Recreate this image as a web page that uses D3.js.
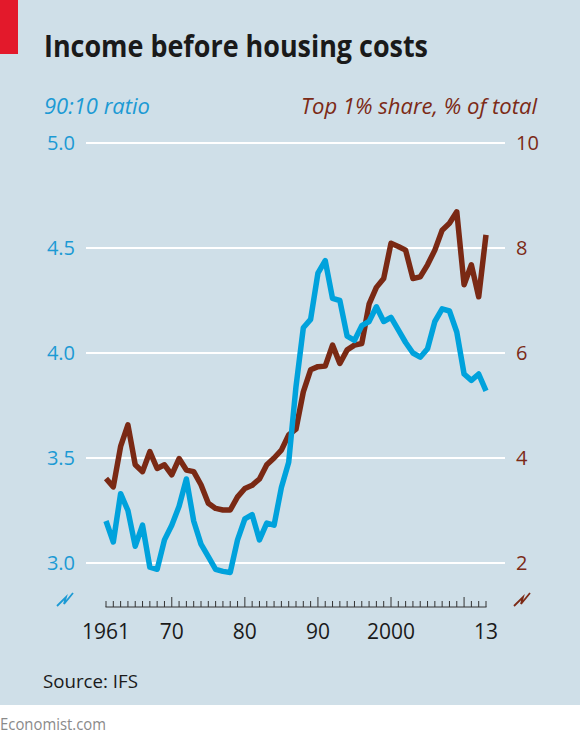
<!DOCTYPE html>
<html><head><meta charset="utf-8">
<script src="https://cdn.jsdelivr.net/npm/d3@7"></script>
<style>
html,body{margin:0;padding:0;background:#fff;}
svg{display:block;}
text{font-family:"Open Sans","Noto Sans",sans-serif;}
</style></head>
<body>
<svg id="c" width="580" height="742"></svg>
<script>
const years = d3.range(1961, 2014);
const ratio9010 = [3.20,3.10,3.33,3.25,3.08,3.18,2.98,2.97,3.11,3.18,
  3.27,3.40,3.20,3.09,3.03,2.97,2.96,2.955,3.11,3.21,
  3.23,3.11,3.19,3.18,3.36,3.48,3.84,4.12,4.16,4.38,
  4.44,4.26,4.25,4.08,4.06,4.13,4.15,4.22,4.15,4.17,
  4.11,4.05,4.00,3.98,4.02,4.15,4.21,4.20,4.10,3.90,
  3.87,3.90,3.82];
const top1Share = [3.61,3.45,4.22,4.63,3.87,3.74,4.12,3.80,3.87,3.68,
  3.99,3.77,3.74,3.49,3.14,3.04,3.01,3.01,3.26,3.42,
  3.48,3.60,3.87,4.00,4.15,4.44,4.55,5.26,5.68,5.74,
  5.75,6.15,5.80,6.06,6.15,6.18,6.93,7.25,7.42,8.09,
  8.03,7.96,7.42,7.45,7.68,7.96,8.34,8.47,8.69,7.30,
  7.68,7.07,8.25];
const leftTicks = [3.0, 3.5, 4.0, 4.5, 5.0];
const rightTicks = [2, 4, 6, 8, 10];
const xTickYears = [1961, 1970, 1980, 1990, 2000, 2013];
const xTickLabels = ["1961", "70", "80", "90", "2000", "13"];

const title = "Income before housing costs";
const leftLabel = "90:10 ratio";
const rightLabel = "Top 1% share, % of total";
const source = "Source: IFS";
const credit = "Economist.com";

const BLUE = "#00a2dc", BLUE_T = "#1c9ad4", RED = "#7a2914", RED_T = "#7c2a16", BG = "#cfdfe8";

const svg = d3.select("#c");
svg.append("rect").attr("x",0).attr("y",0).attr("width",580).attr("height",705).attr("fill",BG);
svg.append("rect").attr("x",0).attr("y",0).attr("width",18).attr("height",54).attr("fill","#e3192b");

const x = d3.scaleLinear().domain([1961, 2013]).range([106, 486]);
const yL = d3.scaleLinear().domain([3, 5]).range([563, 143]);
const yR = d3.scaleLinear().domain([2, 10]).range([563, 143]);

svg.append("text").attr("x",44).attr("y",57).text(title)
  .attr("font-family","Roboto, 'Open Sans', sans-serif").attr("font-weight",700)
  .attr("font-size",31).attr("fill","#1a1a1a")
  .attr("textLength",384).attr("lengthAdjust","spacingAndGlyphs");

svg.append("text").attr("x",44).attr("y",114).text(leftLabel)
  .attr("font-style","italic").attr("font-size",21).attr("fill",BLUE_T)
  .attr("textLength",106).attr("lengthAdjust","spacingAndGlyphs");
svg.append("text").attr("x",537).attr("y",114).text(rightLabel)
  .attr("text-anchor","end").attr("font-style","italic").attr("font-size",21).attr("fill",RED_T)
  .attr("textLength",236).attr("lengthAdjust","spacingAndGlyphs");

// gridlines
svg.append("g").selectAll("line").data(leftTicks).join("line")
  .attr("x1",86).attr("x2",505).attr("y1",d=>yL(d)).attr("y2",d=>yL(d))
  .attr("stroke","#fff").attr("stroke-width",2);

// left axis labels
svg.append("g").selectAll("text").data(leftTicks).join("text")
  .attr("x",75).attr("y",d=>yL(d)+7).attr("text-anchor","end")
  .attr("font-size",20).attr("fill",BLUE_T).text(d=>d3.format(".1f")(d));
// right axis labels
svg.append("g").selectAll("text").data(rightTicks).join("text")
  .attr("x",516).attr("y",d=>yR(d)+7).attr("text-anchor","start")
  .attr("font-size",20).attr("fill",RED_T).text(d=>d);

// x axis
const axisY = 607;
const xAxis = d3.axisBottom(x).tickValues(d3.range(1961, 2014)).tickSize(0).tickFormat("");
const gx = svg.append("g").attr("transform",`translate(0,${axisY})`).call(xAxis);
gx.select(".domain").remove();
svg.append("line").attr("x1",x(1961)-0.5).attr("x2",x(2013)+0.5).attr("y1",axisY).attr("y2",axisY)
  .attr("stroke","#333").attr("stroke-width",1.2);
svg.append("g").selectAll("line").data(years).join("line")
  .attr("x1",d=>x(d)).attr("x2",d=>x(d)).attr("y1",axisY)
  .attr("y2",d=>axisY - (d % 10 === 0 ? 10 : 6))
  .attr("stroke","#333").attr("stroke-width",1);
svg.append("g").selectAll("text").data(xTickYears).join("text")
  .attr("x",d=>x(d)).attr("y",639).attr("text-anchor","middle")
  .attr("font-size",21).attr("fill","#1a1a1a").text((d,i)=>xTickLabels[i]);

// break symbols
function brk(cx, color){
  svg.append("path").attr("d",`M${cx-8},${606} L${cx+1},${597} L${cx-1},${604} L${cx+8},${593}`)
    .attr("fill","none").attr("stroke",color).attr("stroke-width",1.8).attr("stroke-linejoin","miter");
}
brk(65, BLUE_T); brk(522, RED_T);

// lines
const lineR = d3.line().x((d,i)=>x(years[i])).y(d=>yR(d)).curve(d3.curveLinear);
const lineL = d3.line().x((d,i)=>x(years[i])).y(d=>yL(d)).curve(d3.curveLinear);
svg.append("path").attr("d",lineR(top1Share)).attr("fill","none").attr("stroke",RED)
  .attr("stroke-width",5.5).attr("stroke-linejoin","round");
svg.append("path").attr("d",lineL(ratio9010)).attr("fill","none").attr("stroke",BLUE)
  .attr("stroke-width",5.5).attr("stroke-linejoin","round");

svg.append("text").attr("x",43).attr("y",688).attr("font-size",19).attr("fill","#1a1a1a").text(source)
  .attr("textLength",95).attr("lengthAdjust","spacingAndGlyphs");
svg.append("text").attr("x",0).attr("y",730).attr("font-size",17).attr("fill","#8a8a8a").text(credit)
  .attr("textLength",106).attr("lengthAdjust","spacingAndGlyphs");
</script>
</body></html>
